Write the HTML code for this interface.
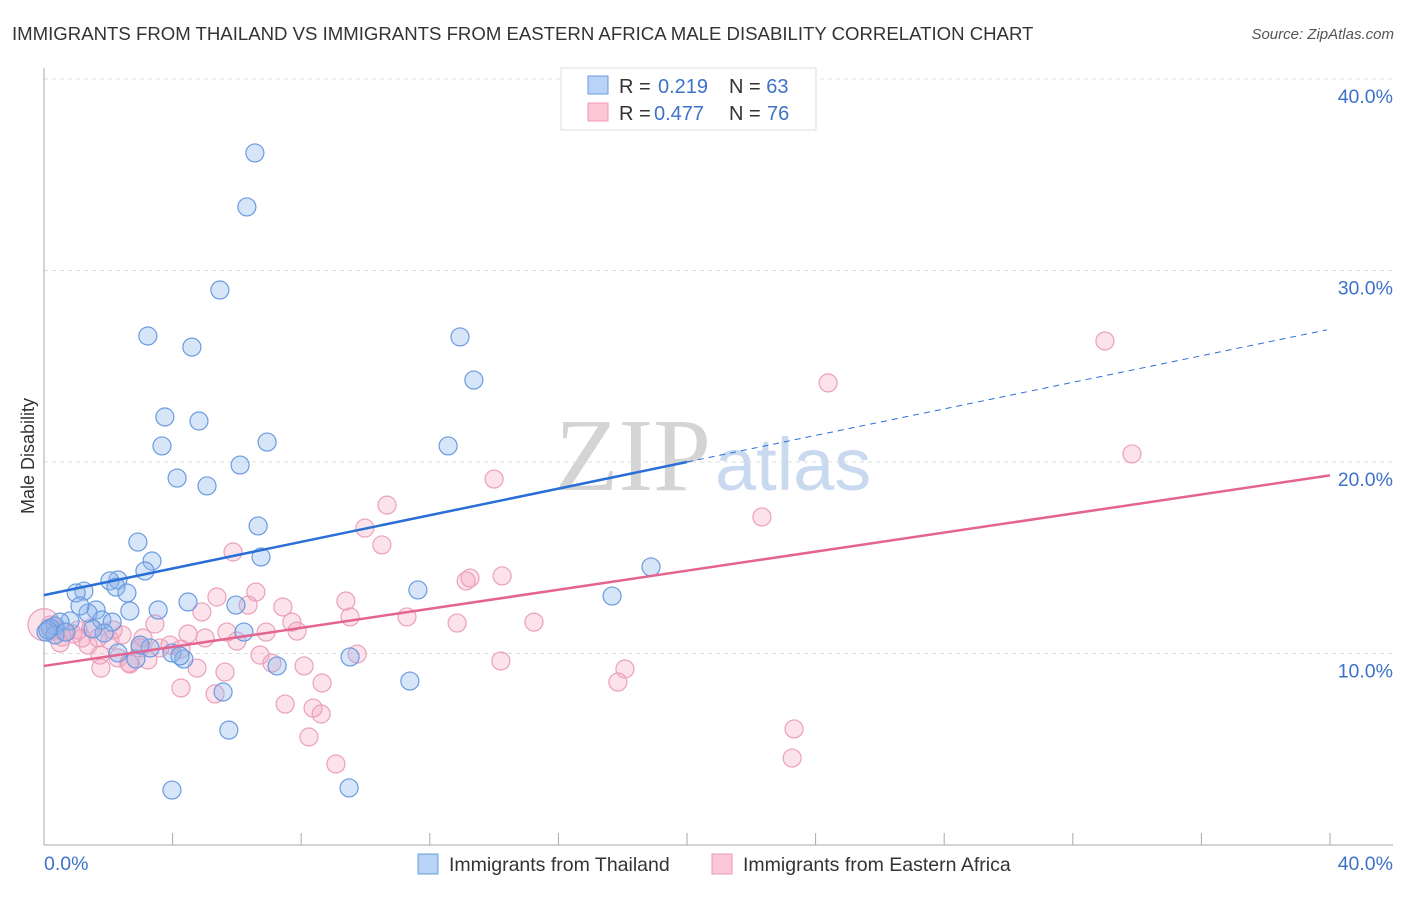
<!DOCTYPE html>
<html><head><meta charset="utf-8"><style>
body{margin:0;background:#fff;font-family:"Liberation Sans",sans-serif}
svg text{font-family:"Liberation Sans",sans-serif}
</style></head><body>
<svg id="c" width="1406" height="892" xmlns="http://www.w3.org/2000/svg">
<text x="12" y="40" font-size="18.6" fill="#333">IMMIGRANTS FROM THAILAND VS IMMIGRANTS FROM EASTERN AFRICA MALE DISABILITY CORRELATION CHART</text>
<text x="1394" y="39" font-size="15" fill="#555" font-style="italic" text-anchor="end">Source: ZipAtlas.com</text>
<text x="555" y="490" font-size="104" fill="#d8d8d8" font-family="Liberation Serif"><tspan fill="#d4d4d4" font-family="Liberation Serif">ZIP</tspan><tspan fill="#c9d9ef" font-family="Liberation Sans" font-size="74" dx="4">atlas</tspan></text>
<g id="grid"></g><g id="pts"></g><g id="lines"></g>
<text transform="translate(34,456) rotate(-90)" font-size="18" fill="#333" text-anchor="middle">Male Disability</text>
<text x="44" y="870" font-size="19.5" fill="#3d72c8">0.0%</text>
<text x="1393" y="870" font-size="19.5" fill="#3d72c8" text-anchor="end">40.0%</text>
<g>
<rect x="561" y="68" width="255" height="62" fill="#fff" stroke="#ddd"/>
<rect x="588" y="76" width="20" height="18" fill="#b8d3f5" stroke="#6a9be0"/>
<rect x="588" y="103" width="20" height="18" fill="#fcc8d8" stroke="#ee9ab6"/>
<text x="619" y="93" font-size="20" fill="#333">R = <tspan x="658" fill="#3d72c8">0.219</tspan><tspan x="729">N = </tspan><tspan fill="#3d72c8">63</tspan></text>
<text x="619" y="120" font-size="20" fill="#333">R = <tspan x="654" fill="#3d72c8">0.477</tspan><tspan x="729">N = </tspan><tspan x="767" fill="#3d72c8">76</tspan></text>
</g>
<g>
<rect x="418" y="854" width="20" height="20" fill="#b8d3f5" stroke="#6a9be0"/>
<text x="449" y="871" font-size="19.5" fill="#333">Immigrants from Thailand</text>
<rect x="712" y="854" width="20" height="20" fill="#fcc8d8" stroke="#ee9ab6"/>
<text x="743" y="871" font-size="19.5" fill="#333">Immigrants from Eastern Africa</text>
</g>
</svg>
<script>
const yTicks=[10,20,30,40];
const yTickLabels=["10.0%","20.0%","30.0%","40.0%"];
const xTicks=[0,4,8,12,16,20,24,28,32,36,40];
const blueX=[6.56,6.31,5.47,3.23,4.60,12.94,13.37,3.76,4.82,3.67,6.94,12.57,6.10,4.14,5.07,6.66,2.92,6.75,3.36,3.14,2.30,2.05,2.24,1.24,1.0,2.58,11.63,17.67,18.88,4.48,5.97,3.55,2.67,1.62,1.37,1.12,1.80,2.12,0.81,0.50,0.34,0.19,0.06,1.87,6.22,0.34,0.68,2.30,2.86,3.30,3.98,4.35,7.25,9.52,11.38,5.57,5.75,9.49,3.98,1.52,4.23,2.99,0.12];
const blueY=[36.14,33.32,28.98,26.58,26.0,26.53,24.28,22.35,22.14,20.84,21.04,20.84,19.84,19.16,18.75,16.66,15.82,15.04,14.83,14.31,13.84,13.79,13.47,13.26,13.16,13.16,13.32,13.0,14.52,12.69,12.53,12.27,12.22,12.27,12.11,12.48,11.75,11.64,11.70,11.64,11.44,11.33,11.12,11.07,11.12,10.97,11.12,10.03,9.71,10.29,10.03,9.71,9.35,9.82,8.56,7.99,6.0,2.98,2.87,11.28,9.87,10.44,11.23];
const pinkX=[33.0,24.39,33.84,14.0,10.67,22.33,9.98,10.51,5.88,14.25,13.25,13.13,6.59,5.38,4.91,9.39,6.35,7.43,9.52,7.71,7.87,11.29,12.85,15.24,3.45,5.69,6.91,4.48,5.01,6.0,2.43,3.08,2.99,3.61,3.92,2.05,1.68,1.18,0.90,0.62,0.37,0.19,0.0,0.50,1.37,1.74,2.30,3.23,2.64,4.76,5.63,6.72,7.09,8.09,9.74,1.77,2.67,4.26,14.21,18.07,17.85,8.65,4.26,5.32,7.50,8.37,8.62,8.24,9.08,23.33,23.27,0.56,1.06,1.46,2.15,2.99];
const pinkY=[26.32,24.13,20.42,19.11,17.75,17.13,16.55,15.67,15.30,14.05,13.94,13.79,13.21,12.95,12.17,12.74,12.53,12.43,11.91,11.64,11.17,11.91,11.59,11.64,11.54,11.12,11.12,11.02,10.81,10.65,10.97,10.81,10.44,10.29,10.44,10.70,10.81,10.81,11.02,11.12,11.23,11.49,11.50,10.55,10.44,9.92,9.77,9.66,9.50,9.24,9.03,9.92,9.50,9.35,9.97,9.24,9.45,10.23,9.61,9.19,8.51,8.46,8.20,7.89,7.36,7.15,6.84,5.64,4.23,6.06,4.54,10.86,11.23,11.33,11.23,10.29];
const pinkWeight=[1,1,1,1,1,1,1,1,1,1,1,1,1,1,1,1,1,1,1,1,1,1,1,1,1,1,1,1,1,1,1,1,1,1,1,1,1,1,1,1,1,1,3,1,1,1,1,1,1,1,1,1,1,1,1,1,1,1,1,1,1,1,1,1,1,1,1,1,1,1,1,1,1,1,1,1];
const blueTrend=[13.05,20.0,26.9];
const pinkTrend=[9.35,19.3];
const NS="http://www.w3.org/2000/svg";
const X=v=>44+v*32.15, Y=v=>845-v*19.15;
function mk(t,a,p){const e=document.createElementNS(NS,t);for(const k in a)e.setAttribute(k,a[k]);p.appendChild(e);return e;}
const grid=document.getElementById('grid');
yTicks.forEach((t,i)=>{
 const l=mk('line',{x1:44,x2:1393,y1:Y(t),y2:Y(t),stroke:'#ddd','stroke-dasharray':'4,4'},grid);
 
 
 const tx=mk('text',{x:1393,y:Y(t)+24,'font-size':19.5,fill:'#3d72c8','text-anchor':'end'},grid);
 tx.textContent=yTickLabels[i];
 
 
});
const ax=mk('line',{x1:44,x2:44,y1:68,y2:845,stroke:'#aaa'},grid);


const bx=mk('line',{x1:44,x2:1393,y1:845,y2:845,stroke:'#aaa'},grid);


xTicks.forEach(t=>{
 const l=mk('line',{x1:X(t),x2:X(t),y1:833,y2:845,stroke:'#aaa'},grid);
 
 
});
const pts=document.getElementById('pts');
pinkX.forEach((v,i)=>{
 const c=mk('circle',{cx:X(v),cy:Y(pinkY[i]),r:(pinkWeight[i]>1?16:9),fill:'rgba(245,160,190,0.3)',stroke:'#eba0bb','stroke-width':1.2},pts);
 
 
});
blueX.forEach((v,i)=>{
 const c=mk('circle',{cx:X(v),cy:Y(blueY[i]),r:9,fill:'rgba(140,180,235,0.35)',stroke:'#6a9be0','stroke-width':1.2},pts);
 
 
});
const lines=document.getElementById('lines');
const b1=mk('line',{x1:X(0),y1:Y(blueTrend[0]),x2:X(20),y2:Y(blueTrend[1]),stroke:'#2a6fd6','stroke-width':2.5},lines);


const b2=mk('line',{x1:X(20),y1:Y(blueTrend[1]),x2:X(39.9),y2:Y(blueTrend[2]),stroke:'#2a6fd6','stroke-width':1,'stroke-dasharray':'6,5'},lines);


const p1=mk('line',{x1:X(0),y1:Y(pinkTrend[0]),x2:X(40),y2:Y(pinkTrend[1]),stroke:'#e4638f','stroke-width':2.5},lines);


</script>
</body></html>
